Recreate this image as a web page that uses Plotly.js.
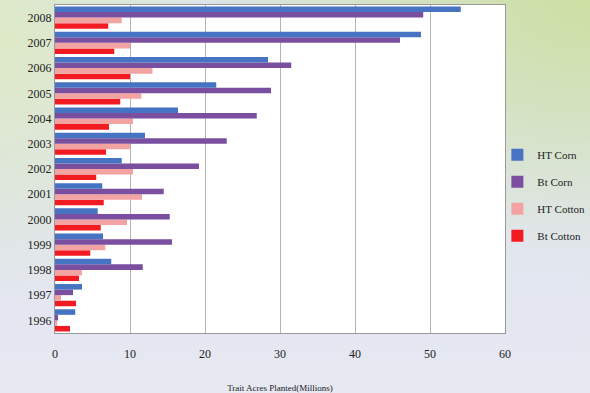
<!DOCTYPE html>
<html><head><meta charset="utf-8">
<script src="https://cdn.plot.ly/plotly-3.0.1.min.js"></script>
<style>
html,body{margin:0;padding:0;}
body{width:590px;height:393px;overflow:hidden;
background:
 radial-gradient(ellipse 380px 260px at 100% 0%, #cde0a2 0%, rgba(205,224,162,0) 100%),
 radial-gradient(ellipse 200px 260px at 0% 10%, #dde9c6 0%, rgba(221,233,198,0) 100%),
 linear-gradient(180deg, #dbe4e6 0%, #e2e6ef 60%, #e6e8f2 100%);}
#chart{width:590px;height:393px;}
</style></head>
<body><div id="chart"></div>
<script>
const years = ['1996','1997','1998','1999','2000','2001','2002','2003','2004','2005','2006','2007','2008'];
const htCorn   = [2.7, 3.6, 7.5, 6.4, 5.7, 6.3, 8.9, 12.0, 16.4, 21.5, 28.4, 48.8, 54.1];
const btCorn   = [0.4, 2.4, 11.7, 15.6, 15.3, 14.5, 19.2, 22.9, 26.9, 28.8, 31.5, 46.0, 49.1];
const htCotton = [0.3, 0.8, 3.6, 6.7, 9.6, 11.6, 10.4, 10.0, 10.4, 11.5, 13.0, 10.0, 8.9];
const btCotton = [2.0, 2.8, 3.2, 4.7, 6.1, 6.5, 5.5, 6.8, 7.2, 8.7, 10.0, 7.9, 7.1];
const seriesNames = ['HT Corn','Bt Corn','HT Cotton','Bt Cotton'];
const seriesColors = ['#4673c2','#7a4f9f','#f4a3a3','#f31b22'];
const seriesValues = [htCorn, btCorn, htCotton, btCotton];
const xTicks = [0,10,20,30,40,50,60];

const serif = 'Liberation Serif, DejaVu Serif, serif';
const traces = [];
for (let i = seriesNames.length - 1; i >= 0; i--) {
  traces.push({
    type:'bar', orientation:'h', name:seriesNames[i], legendgroup:seriesNames[i],
    legendrank: i + 1,
    y:years, x:seriesValues[i],
    marker:{color:seriesColors[i], line:{width:0}}
  });
}
const layout = {
  width:590, height:393,
  margin:{l:55, r:85, t:5, b:60, autoexpand:false},
  paper_bgcolor:'rgba(0,0,0,0)', plot_bgcolor:'#ffffff',
  barmode:'group', bargap:0.12, bargroupgap:0,
  font:{family:serif, color:'#222'},
  xaxis:{range:[0,60], tickvals:xTicks, ticktext:xTicks.map(String),
    showgrid:true, gridcolor:'#b4b4b4', gridwidth:1, zeroline:false,
    showline:true, linecolor:'#999', mirror:true, ticks:'', ticklabelstandoff:10,
    tickfont:{family:serif, size:12, color:'#222'},
    title:{text:'Trait Acres Planted(Millions)', font:{family:serif, size:9, color:'#222'}, standoff:24}},
  yaxis:{type:'category', categoryorder:'array', categoryarray:years,
    showgrid:false, showline:true, linecolor:'#999', mirror:true, ticks:'',
    tickfont:{family:serif, size:12, color:'#222'}},
  showlegend:true,
  legend:{xref:'container', yref:'container', x:0.843, xanchor:'left', y:0.503, yanchor:'middle',
    traceorder:'grouped', tracegroupgap:8, bgcolor:'rgba(0,0,0,0)', itemwidth:30,
    font:{family:serif, size:11, color:'#222'}}
};
Plotly.newPlot('chart', traces, layout, {displayModeBar:false, staticPlot:true});
</script></body></html>
